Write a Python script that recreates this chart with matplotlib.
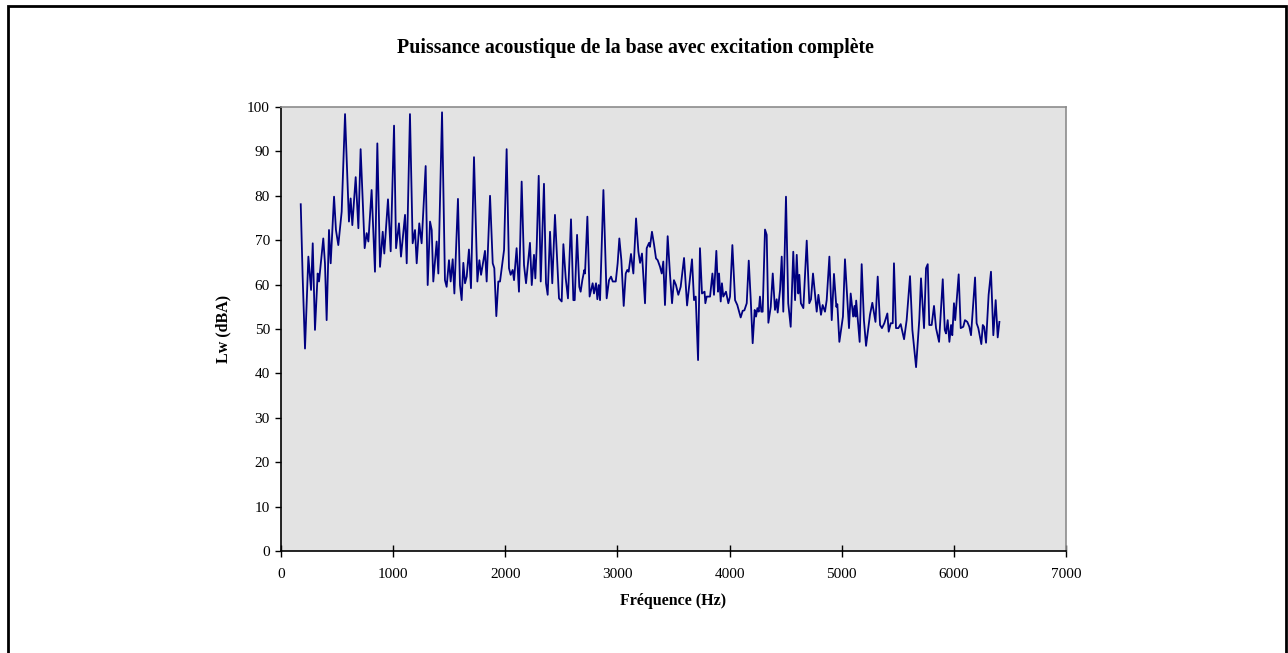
import matplotlib
matplotlib.use("Agg")
import matplotlib.pyplot as plt
from matplotlib.patches import Rectangle

freq_hz = [176, 193, 214, 244, 268, 283, 303, 327, 339, 377, 392, 407, 428, 443, 473,
           490, 511, 541, 571, 606, 621, 636, 666, 690, 710, 746, 764, 779, 808, 838,
           859, 883, 907, 921, 954, 978, 1008, 1026, 1052, 1070, 1106, 1121, 1150, 1174,
           1195, 1210, 1233, 1254, 1290, 1308, 1329, 1344, 1358, 1388, 1403, 1436, 1462,
           1477, 1498, 1513, 1531, 1546, 1578, 1596, 1611, 1626, 1641, 1656, 1676, 1694,
           1721, 1751, 1769, 1784, 1798, 1819, 1834, 1864, 1888, 1902, 1920, 1938, 1953,
           1968, 1989, 2012, 2033, 2048, 2066, 2078, 2101, 2122, 2146, 2167, 2185, 2220,
           2236, 2256, 2268, 2280, 2298, 2316, 2345, 2363, 2378, 2399, 2419, 2443, 2479,
           2503, 2518, 2539, 2559, 2586, 2607, 2619, 2640, 2660, 2672, 2687, 2705, 2711,
           2732, 2752, 2779, 2791, 2809, 2821, 2833, 2845, 2875, 2904, 2925, 2943, 2958,
           2985, 3002, 3017, 3035, 3056, 3074, 3088, 3100, 3121, 3142, 3166, 3187, 3202,
           3219, 3246, 3261, 3282, 3290, 3308, 3326, 3344, 3359, 3380, 3395, 3409, 3424,
           3448, 3469, 3487, 3504, 3522, 3543, 3564, 3594, 3621, 3665, 3683, 3698, 3719,
           3736, 3754, 3777, 3784, 3796, 3826, 3847, 3861, 3882, 3897, 3906, 3921, 3932,
           3944, 3968, 3989, 4004, 4025, 4049, 4069, 4099, 4117, 4132, 4153, 4171, 4189,
           4206, 4224, 4236, 4248, 4260, 4271, 4283, 4295, 4316, 4331, 4346, 4367, 4385,
           4405, 4420, 4429, 4450, 4465, 4479, 4503, 4523, 4545, 4568, 4584, 4599, 4613,
           4622, 4636, 4658, 4688, 4711, 4726, 4744, 4777, 4792, 4815, 4830, 4851, 4866,
           4890, 4911, 4931, 4952, 4961, 4979, 5011, 5029, 5065, 5080, 5102, 5114, 5123,
           5129, 5160, 5178, 5198, 5217, 5252, 5273, 5301, 5321, 5342, 5359, 5380, 5407,
           5419, 5437, 5455, 5466, 5484, 5505, 5526, 5556, 5579, 5609, 5630, 5663, 5692,
           5707, 5734, 5752, 5767, 5781, 5802, 5823, 5841, 5868, 5901, 5919, 5930, 5945,
           5960, 5975, 5986, 6001, 6012, 6043, 6061, 6084, 6099, 6120, 6138, 6153, 6189,
           6203, 6218, 6245, 6258, 6270, 6287, 6310, 6331, 6352, 6373, 6391, 6406]
lw_dba = [78.1, 61.8, 45.6, 66.3, 58.8, 69.3, 49.8, 62.5, 60.7, 70.4, 64.8, 52.0, 72.3, 64.8, 79.8,
          72.3, 68.9, 76.4, 98.4, 74.2, 79.4, 73.4, 84.2, 72.7, 90.5, 68.2, 71.6, 69.7, 81.3, 62.9,
          91.8, 64.0, 71.9, 67.0, 79.2, 67.5, 95.8, 68.2, 73.8, 66.3, 75.7, 64.8, 98.4, 69.3,
          72.3, 64.8, 73.8, 69.3, 86.7, 59.9, 74.2, 72.3, 60.7, 69.7, 62.5, 98.8, 61.0,
          59.5, 65.5, 60.7, 65.7, 58.0, 79.3, 59.9, 56.5, 64.9, 60.3, 61.8, 67.9, 59.2,
          88.7, 60.7, 65.5, 62.2, 64.4, 67.6, 60.7, 80.0, 64.8, 63.7, 52.9, 60.7, 60.7,
          63.7, 67.8, 90.5, 63.7, 62.2, 63.3, 61.0, 68.2, 58.4, 83.2, 64.4, 60.3, 69.4,
          59.9, 66.7, 61.4, 68.5, 84.5, 60.7, 82.7, 60.3, 57.7, 71.9, 60.3, 75.7, 56.9,
          56.2, 69.1, 61.4, 56.9, 74.7, 56.5, 56.5, 71.2, 59.5, 58.4, 61.0, 63.3, 62.5,
          75.3, 57.3, 60.3, 58.0, 60.3, 56.7, 59.9, 56.5, 81.3, 56.9, 61.0, 61.8, 60.7,
          60.7, 64.8, 70.4, 65.5, 55.2, 62.5, 63.3, 62.9, 66.9, 62.5, 74.9, 67.4, 64.9,
          67.0, 55.8, 68.2, 69.4, 68.5, 71.9, 69.1, 65.9, 65.5, 64.0, 62.5, 65.2, 55.4,
          70.9, 62.2, 55.8, 61.0, 59.9, 57.7, 59.5, 66.0, 55.3, 65.7, 56.5, 57.3, 43.0,
          68.2, 58.0, 58.4, 55.8, 57.3, 57.3, 62.5, 57.7, 67.6, 58.4, 62.5, 56.2, 60.3,
          57.3, 58.4, 55.8, 57.3, 68.9, 56.5, 55.4, 52.6, 54.1, 54.2, 55.8, 65.4, 56.5,
          46.8, 54.3, 52.8, 54.7, 53.9, 57.3, 53.9, 53.9, 72.4, 71.2, 51.4, 55.0, 62.5,
          54.3, 56.7, 53.7, 58.8, 66.3, 53.9, 79.8, 55.8, 50.5, 67.4, 56.5, 66.7, 58.0,
          62.2, 55.8, 54.7, 69.9, 55.8, 56.7, 62.5, 53.9, 57.7, 53.2, 55.4, 53.9, 56.5,
          66.3, 52.0, 62.4, 55.0, 55.6, 47.1, 52.8, 65.7, 50.2, 58.0, 52.8, 55.2, 52.8,
          56.4, 47.1, 64.6, 52.0, 46.2, 53.2, 55.9, 51.6, 61.8, 50.9, 50.2, 51.3, 53.5,
          49.4, 51.3, 51.3, 64.8, 50.2, 50.2, 51.1, 47.7, 52.0, 61.9, 49.8, 41.4, 52.2,
          61.4, 50.2, 63.7, 64.6, 50.9, 50.9, 55.2, 50.2, 47.1, 61.2, 49.8, 49.0, 52.0,
          47.1, 50.9, 48.6, 55.8, 52.0, 62.3, 50.2, 50.5, 52.0, 51.6, 50.5, 48.6, 61.6,
          51.3, 50.2, 46.6, 50.9, 50.5, 46.9, 57.7, 62.9, 48.6, 56.5, 48.1, 51.6]

x_ticks = [0, 1000, 2000, 3000, 4000, 5000, 6000, 7000]
y_ticks = [0, 10, 20, 30, 40, 50, 60, 70, 80, 90, 100]

plt.rcParams['font.family'] = ['Liberation Serif', 'DejaVu Serif']

W, H = 1288, 653
fig = plt.figure(figsize=(W / 100, H / 100), dpi=100)
ax = fig.add_axes([281 / W, 1 - 551 / H, (1066 - 281) / W, (551 - 107) / H])
ax.set_facecolor('#e3e3e3')
ax.plot(freq_hz, lw_dba, color='#000080', linewidth=1.3)
ax.set_xlim(0, 7000)
ax.set_ylim(0, 100)
ax.set_xticks(x_ticks)
ax.set_yticks(y_ticks)
ax.tick_params(axis='x', direction='inout', length=8, width=1, labelsize=11, pad=8)
ax.tick_params(axis='y', direction='out', length=4, width=1, labelsize=11, pad=4)
for s in ['left', 'bottom']:
    ax.spines[s].set_color('black')
    ax.spines[s].set_linewidth(1.2)
for s in ['top', 'right']:
    ax.spines[s].set_color('#8c8c8c')
    ax.spines[s].set_linewidth(1.2)

ax.set_xlabel('Fréquence (Hz)', fontsize=11.5, fontweight='bold', labelpad=9)
ax.set_ylabel('Lw (dBA)', fontsize=11.5, fontweight='bold', labelpad=11)
fig.text(635 / W, 1 - 48 / H, 'Puissance acoustique de la base avec excitation complète',
         ha='center', va='center', fontsize=14.3, fontweight='bold')

fig.patches.append(Rectangle((8 / W, -0.05), (1286 - 8) / W, 0.05 + 1 - 6 / H,
                             transform=fig.transFigure, fill=False,
                             edgecolor='black', linewidth=2))

fig.savefig('out.png', dpi=100, facecolor='white')
